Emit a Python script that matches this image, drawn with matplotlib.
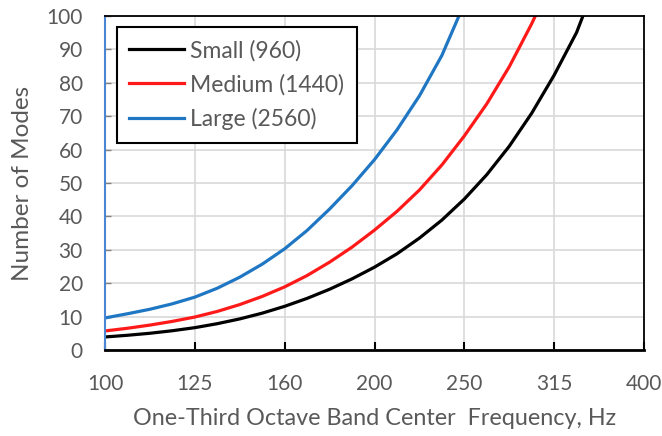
import matplotlib.pyplot as plt
import numpy as np

plt.rcParams['font.family'] = ['Lato', 'DejaVu Sans']

# one-third octave bands, placed at equal spacing (index 0..6)
band_labels = ['100', '125', '160', '200', '250', '315', '400']

# positions along the band axis (in band steps) and mode counts
pos_small = [0, 0.25, 0.5, 0.75, 1, 1.25, 1.5, 1.75, 2, 2.25, 2.5, 2.75, 3,
             3.25, 3.5, 3.75, 4, 4.25, 4.5, 4.75, 5, 5.25, 5.32]
modes_small = [3.9, 4.41, 5.01, 5.77, 6.69, 7.88, 9.31, 11.03, 13.08, 15.46, 18.19,
               21.3, 24.8, 28.8, 33.5, 38.9, 45.2, 52.5, 61.0, 70.9, 82.3, 95.1, 100]

pos_medium = [0, 0.25, 0.5, 0.75, 1, 1.25, 1.5, 1.75, 2, 2.25, 2.5, 2.75, 3,
              3.25, 3.5, 3.75, 4, 4.25, 4.5, 4.75, 4.79]
modes_medium = [5.7, 6.51, 7.46, 8.57, 9.87, 11.55, 13.6, 16.04, 18.9, 22.3, 26.3,
                30.8, 35.9, 41.5, 47.9, 55.4, 64.1, 73.7, 84.8, 97.7, 100]

pos_large = [0, 0.25, 0.5, 0.75, 1, 1.25, 1.5, 1.75, 2, 2.25, 2.5, 2.75, 3,
             3.25, 3.5, 3.75, 3.94]
modes_large = [9.6, 10.85, 12.2, 13.83, 15.83, 18.5, 21.8, 25.7, 30.3, 35.8, 42.2,
               49.2, 57.0, 65.9, 76.1, 88.2, 100]

text_gray = '#595959'

fig = plt.figure(figsize=(6.62, 4.36), dpi=100)
ax = fig.add_axes([105 / 662, 86 / 436, 539 / 662, 334 / 436])

ax.plot(pos_small, modes_small, color='black', linewidth=2.3, label='Small (960)')
ax.plot(pos_medium, modes_medium, color='#ff1a1a', linewidth=2.3, label='Medium (1440)')
ax.plot(pos_large, modes_large, color='#1f77c4', linewidth=2.3, label='Large (2560)')

ax.set_xlim(0, 6)
ax.set_ylim(0, 100)
ax.set_xticks(np.arange(len(band_labels)))
ax.set_xticklabels(band_labels)
ax.set_yticks(np.arange(0, 101, 10))

ax.grid(True, color='#d9d9d9', linewidth=1.2)
ax.set_axisbelow(True)

for side in ['top', 'right', 'bottom']:
    ax.spines[side].set_color('black')
    ax.spines[side].set_linewidth(1.3)
ax.spines['bottom'].set_linewidth(2)
ax.spines['left'].set_color('#4a86d4')
ax.spines['left'].set_linewidth(1.5)

ax.tick_params(axis='x', direction='in', length=6, width=1.5, color='black',
               pad=17, labelsize=15, labelcolor=text_gray)
ax.tick_params(axis='y', direction='in', length=4, width=1, color='#808080',
               pad=16, labelsize=15, labelcolor=text_gray)

ax.set_xlabel('One-Third Octave Band Center  Frequency, Hz', fontsize=16.8,
              color=text_gray, labelpad=10)
ax.set_ylabel('Number of Modes', fontsize=17.5, color=text_gray, labelpad=10)

leg = ax.legend(loc='upper left', bbox_to_anchor=(0.022, 0.967), borderaxespad=0,
                fontsize=16.5, handlelength=2.4, handletextpad=0.25,
                labelspacing=0.55, borderpad=0.55, fancybox=False,
                framealpha=1, edgecolor='black')
leg.get_frame().set_linewidth(1.5)
for t in leg.get_texts():
    t.set_color(text_gray)

fig.savefig('out.png', dpi=100)
